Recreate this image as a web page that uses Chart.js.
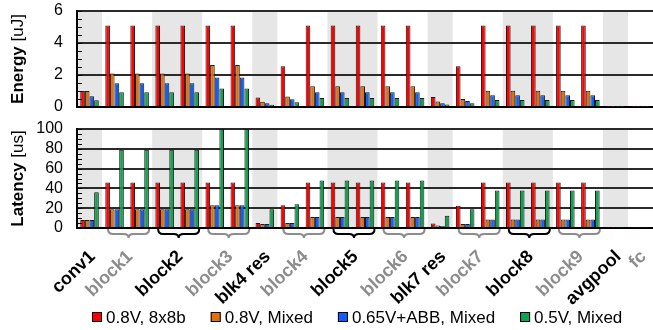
<!DOCTYPE html>
<html>
<head>
<meta charset="utf-8">
<script src="https://cdn.jsdelivr.net/npm/chart.js@4.4.1/dist/chart.umd.min.js"></script>
<style>
  html, body { margin: 0; padding: 0; background: #fff; }
  #wrap { position: relative; width: 653px; height: 330px; overflow: hidden; }
  canvas { position: absolute; left: 0; }
  #energy { top: 0; }
  #latency { top: 110px; }
</style>
</head>
<body>
<div id="wrap">
  <canvas id="energy" width="653" height="120"></canvas>
  <canvas id="latency" width="653" height="220"></canvas>
</div>
<script>
'use strict';

// ─── Data ─────────────────────────────────────────────────────────────────────
const layerNames = ['conv1', 'block1', 'block2', 'block3', 'blk4 res', 'block4', 'block5',
                    'block6', 'blk7 res', 'block7', 'block8', 'block9', 'avgpool', 'fc'];
const layerSpans = [1, 2, 2, 2, 1, 2, 2, 2, 1, 2, 2, 2, 1, 1];   // bar groups per label

const seriesNames  = ['0.8V, 8x8b', '0.8V, Mixed', '0.65V+ABB, Mixed', '0.5V, Mixed'];
const seriesColors = ['#ff0000', '#e3700f', '#0f5fff', '#12a150'];

// energy [uJ], one value per bar group (23 groups)
const energyRed    = [1.0, 5.1, 5.1, 5.1, 5.1, 5.1, 5.1, 0.6, 2.54, 5.1, 5.1, 5.1, 5.1, 5.1, 0.62, 2.54, 5.1, 5.1, 5.1, 5.1, 5.1, 0.02, 0.02];
const energyOrange = [1.0, 2.1, 2.1, 2.1, 2.1, 2.62, 2.62, 0.33, 0.65, 1.3, 1.3, 1.3, 1.3, 1.3, 0.35, 0.5, 1.02, 1.02, 1.02, 1.02, 1.02, 0.02, 0.02];
const energyBlue   = [0.67, 1.48, 1.48, 1.48, 1.48, 1.85, 1.85, 0.23, 0.48, 0.92, 0.92, 0.92, 0.92, 0.92, 0.23, 0.38, 0.73, 0.73, 0.73, 0.73, 0.73, 0.02, 0.02];
const energyGreen  = [0.42, 0.92, 0.92, 0.92, 0.92, 1.15, 1.15, 0.14, 0.3, 0.56, 0.56, 0.56, 0.56, 0.56, 0.15, 0.23, 0.44, 0.44, 0.44, 0.44, 0.44, 0.02, 0.02];

// latency [us]
const latencyRed    = [8, 46, 46, 46, 46, 46, 46, 5, 23, 46, 46, 46, 46, 46, 4.5, 22.5, 46, 46, 46, 46, 46, 0.4, 0.4];
const latencyOrange = [8, 19, 19, 19, 19, 23, 23, 4, 5, 11, 11, 11, 11, 11, 2.4, 4, 8.5, 8.5, 8.5, 8.5, 8.5, 0.4, 0.4];
const latencyBlue   = [8, 19, 19, 19, 19, 23, 23, 4, 5, 11, 11, 11, 11, 11, 2, 4, 8.5, 8.5, 8.5, 8.5, 8.5, 0.4, 0.4];
const latencyGreen  = [36, 79, 79, 79, 79, 100, 100, 19, 24, 48, 48, 48, 48, 48, 12.5, 19, 38, 38, 38, 38, 38, 0.4, 0.4];

const energyTicks  = [0, 2, 4, 6];
const latencyTicks = [0, 20, 40, 60, 80, 100];

// ─── Derived category layout ──────────────────────────────────────────────────
const categories = [];
const labelPos = [];
layerNames.forEach((name, i) => {
  const start = categories.length;
  for (let k = 0; k < layerSpans[i]; k++) {
    categories.push(layerSpans[i] > 1 ? name + ' #' + (k + 1) : name);
  }
  labelPos.push(start + (layerSpans[i] - 1) / 2);
});

const FONT = "'Liberation Sans', Arial, Helvetica, sans-serif";
Chart.defaults.font.family = FONT;
Chart.defaults.color = '#000';

const GRAY_TXT = '#8c8c8c';

// ─── Drawing helpers (plugin) ─────────────────────────────────────────────────
const decor = {
  id: 'decor',
  beforeDraw(chart) {
    // alternating gray bands behind each layer
    const { ctx, chartArea: a, scales: { x } } = chart;
    const w = x.getPixelForValue(1) - x.getPixelForValue(0);
    ctx.save();
    ctx.fillStyle = '#e6e6e6';
    let idx = 0;
    layerSpans.forEach((s, i) => {
      if (i % 2 === 0) {
        const l = x.getPixelForValue(idx) - w / 2;
        ctx.fillRect(l, a.top, s * w, a.bottom - a.top);
      }
      idx += s;
    });
    ctx.restore();
  },
  afterDraw(chart, args, opts) {
    const { ctx, chartArea: a, scales: { x, y } } = chart;

    // inward minor ticks on the left axis
    ctx.save();
    ctx.strokeStyle = '#000';
    ctx.lineWidth = 1;
    y.ticks.forEach(t => {
      const py = Math.round(y.getPixelForValue(t.value)) + 0.5;
      ctx.beginPath();
      ctx.moveTo(a.left, py);
      ctx.lineTo(a.left + 5, py);
      ctx.stroke();
    });
    ctx.restore();

    // y title: bold word + normal unit
    ctx.save();
    ctx.translate(18, (a.top + a.bottom) / 2);
    ctx.rotate(-Math.PI / 2);
    ctx.textBaseline = 'middle';
    ctx.fillStyle = '#000';
    const boldF = 'bold 17px ' + FONT;
    const normF = '17px ' + FONT;
    ctx.font = boldF;
    const w1 = ctx.measureText(opts.title + ' ').width;
    ctx.font = normF;
    const w2 = ctx.measureText(opts.unit).width;
    const sx = -(w1 + w2) / 2;
    ctx.font = boldF;
    ctx.textAlign = 'left';
    ctx.fillText(opts.title + ' ', sx, 0);
    ctx.font = normF;
    ctx.fillText(opts.unit, sx + w1, 0);
    ctx.restore();

    if (!opts.bottom) return;

    // braces under two-group blocks
    const w = x.getPixelForValue(1) - x.getPixelForValue(0);
    const y0 = a.bottom + 1;
    ctx.save();
    ctx.lineWidth = 2;
    let idx = 0;
    layerSpans.forEach((s, i) => {
      if (s > 1) {
        const l = x.getPixelForValue(idx) - w / 2 + 6;
        const r = x.getPixelForValue(idx + s - 1) + w / 2 - 3;
        const cx = (l + r) / 2;
        const ym = y0 + 5, yt = y0 + 9;
        ctx.strokeStyle = i % 2 ? GRAY_TXT : '#000';
        ctx.beginPath();
        ctx.moveTo(l, y0);
        ctx.quadraticCurveTo(l, ym, l + 5, ym);
        ctx.lineTo(cx - 5, ym);
        ctx.quadraticCurveTo(cx, ym, cx, yt);
        ctx.quadraticCurveTo(cx, ym, cx + 5, ym);
        ctx.lineTo(r - 5, ym);
        ctx.quadraticCurveTo(r, ym, r, y0);
        ctx.stroke();
      }
      idx += s;
    });
    ctx.restore();

    // rotated layer labels, anchored on the category scale
    ctx.save();
    ctx.font = 'bold 18px ' + FONT;
    ctx.textAlign = 'right';
    ctx.textBaseline = 'middle';
    layerNames.forEach((name, i) => {
      const px = x.getPixelForValue(labelPos[i]);
      ctx.save();
      ctx.translate(px + 3, a.bottom + 26);
      ctx.rotate(-44 * Math.PI / 180);
      ctx.fillStyle = i % 2 ? GRAY_TXT : '#000';
      ctx.fillText(name, 0, 0);
      ctx.restore();
    });
    ctx.restore();

    // legend row
    ctx.save();
    ctx.font = '17px ' + FONT;
    ctx.textBaseline = 'middle';
    ctx.textAlign = 'left';
    const ly = 207;
    let lx = 92;
    chart.data.datasets.forEach(ds => {
      ctx.fillStyle = ds.backgroundColor;
      ctx.fillRect(lx, ly - 5, 10, 10);
      ctx.strokeStyle = '#000';
      ctx.lineWidth = 1;
      ctx.strokeRect(lx + 0.5, ly - 4.5, 9, 9);
      ctx.fillStyle = '#000';
      ctx.fillText(ds.label, lx + 14, ly + 1);
      lx += 14 + ctx.measureText(ds.label).width + 25;
    });
    ctx.restore();
  },
};

function makeDatasets(arrays) {
  return arrays.map((data, i) => ({
    label: seriesNames[i],
    data,
    backgroundColor: seriesColors[i],
    borderColor: '#1a1a1a',
    borderWidth: 1,
    categoryPercentage: 0.74,
    barPercentage: 1,
  }));
}

function yAxis(max, step, majors) {
  return {
    min: 0, max,
    afterFit: s => { s.width = 77; },
    border: { display: true, color: '#000', width: 2 },
    grid: {
      drawTicks: true,
      tickLength: 13,
      tickColor: 'rgba(0,0,0,0)',
      lineWidth: 2,
      color: c => c.tick.value === 0 ? '#000' : (majors.includes(c.tick.value) ? '#2a2a2a' : 'rgba(0,0,0,0)'),
    },
    ticks: {
      stepSize: step,
      autoSkip: false,
      padding: 1,
      font: { size: 16 },
      color: '#000',
      callback: v => majors.includes(v) ? v : '',
    },
  };
}

// ─── Energy chart ─────────────────────────────────────────────────────────────
new Chart(document.getElementById('energy'), {
  type: 'bar',
  data: {
    labels: categories,
    datasets: makeDatasets([energyRed, energyOrange, energyBlue, energyGreen]),
  },
  options: {
    responsive: false,
    animation: false,
    layout: { padding: { top: 11, bottom: 13, left: 0, right: 0 } },
    plugins: {
      legend: { display: false },
      tooltip: { enabled: false },
      decor: { title: 'Energy', unit: '[uJ]', bottom: false },
    },
    scales: {
      x: { display: false },
      y: yAxis(6, 0.5, energyTicks),
    },
  },
  plugins: [decor],
});

// ─── Latency chart ────────────────────────────────────────────────────────────
new Chart(document.getElementById('latency'), {
  type: 'bar',
  data: {
    labels: categories,
    datasets: makeDatasets([latencyRed, latencyOrange, latencyBlue, latencyGreen]),
  },
  options: {
    responsive: false,
    animation: false,
    layout: { padding: { top: 19, bottom: 102, left: 0, right: 0 } },
    plugins: {
      legend: { display: false },
      tooltip: { enabled: false },
      decor: { title: 'Latency', unit: '[us]', bottom: true },
    },
    scales: {
      x: { display: false },
      y: yAxis(100, 5, latencyTicks),
    },
  },
  plugins: [decor],
});
</script>
</body>
</html>
